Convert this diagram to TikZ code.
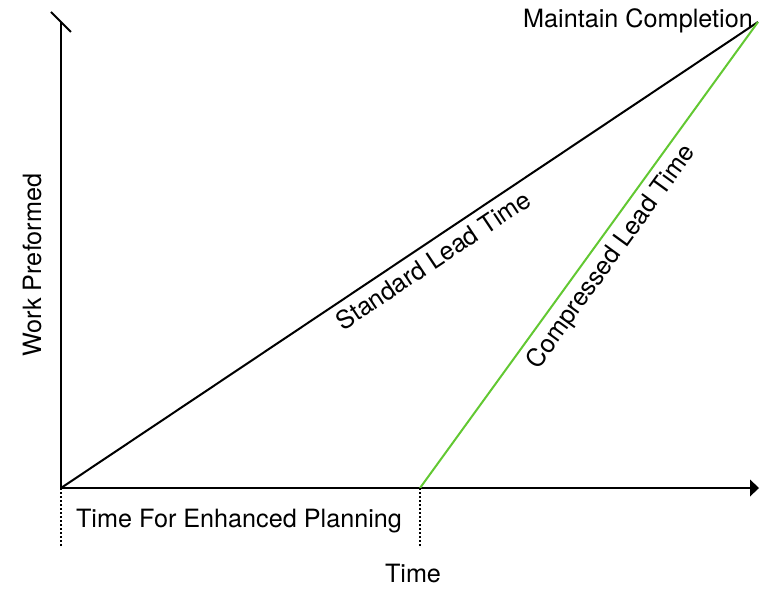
\documentclass[tikz,border=0pt]{standalone}
\usepackage{fontspec}
\setmainfont{TeX Gyre Heros}
\usepackage{xcolor}
\usepackage{tikz}
\definecolor{leadgreen}{RGB}{98,200,50}

\begin{document}
\begin{tikzpicture}[x=0.5pt,y=0.5pt]
\tikzstyle{every node}+=[font=\fontsize{12.6}{15}\selectfont]
\tikzstyle{axis}=[black,line width=1pt]
\tikzstyle{guide}=[black,line width=1pt,dash pattern=on 1pt off 1pt]
\useasboundingbox (0,0) rectangle (769,-588);
% corners of the chart
\coordinate (o) at (61,-488);
\coordinate (ytop) at (61,-22);
\coordinate (xarr) at (750,-488);
\coordinate (xtip) at (759,-488);
\coordinate (gstart) at (420,-488);
\coordinate (fin) at (758,-22);
\coordinate (odrop) at (61,-547);
\coordinate (gdrop) at (420,-547);
% axes
\draw [axis] (o) -- (ytop);
\draw [axis] (ytop) ++(-10,10) -- ++(20,-20);
\draw [axis] (o) -- (xarr);
\fill [black] (xtip) -- ++(-9,8.5) -- ++(0,-17) -- cycle;
% lead time lines
\draw [axis] (o) -- node [sloped,below,pos=0.52] (stdlbl) {Standard Lead Time} (fin);
\draw [leadgreen,line width=1pt] (gstart) -- node [sloped,below,pos=0.52,text=black] (cmplbl) {Compressed Lead Time} (fin);
% planning span
\draw [guide] (o) -- (odrop);
\draw [guide] (gstart) -- (gdrop);
% labels
\node [anchor=base] (planlbl) at (239,-527) {Time For Enhanced Planning};
\node [anchor=base] (timelbl) at (413,-582) {Time};
\node [anchor=base] (donelbl) at (638,-28) {Maintain Completion};
\node [anchor=base,rotate=90] (worklbl) at (41,-265) {Work Preformed};
\end{tikzpicture}
\end{document}
